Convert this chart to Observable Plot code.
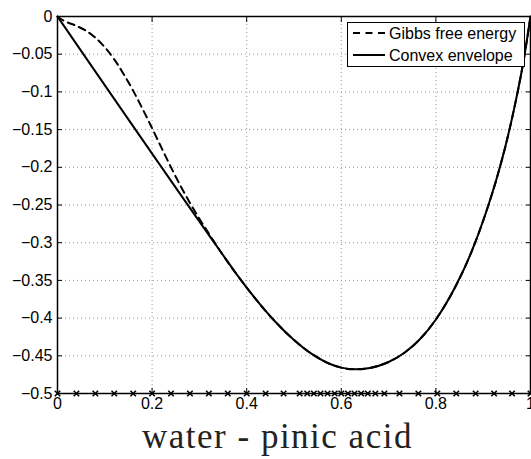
<!DOCTYPE html>
<html><head><meta charset="utf-8">
<script src="https://cdn.jsdelivr.net/npm/d3@7"></script>
<script src="https://cdn.jsdelivr.net/npm/@observablehq/plot@0.6"></script>
<style>
body{margin:0;background:#fff;}
#wrap{position:relative;width:531px;height:459px;overflow:hidden;background:#fff;}
#wrap > svg{display:block;}
.legend{position:absolute;left:347px;top:22px;width:176px;height:43px;border:1px solid #000;background:#fff;}
.legend svg{display:block;}
.title{position:absolute;left:142px;top:419px;font:35px/35px "Liberation Serif","Times New Roman",serif;letter-spacing:1.5px;color:#222;white-space:nowrap;}
</style></head><body>
<div id="wrap"></div>
<script>
// Gibbs free energy of mixing (dashed)
const gibbsX = [0, 0.01, 0.02, 0.04, 0.06, 0.08, 0.10, 0.12, 0.14, 0.16, 0.18, 0.20, 0.22, 0.24, 0.26, 0.28, 0.30, 0.32, 0.345, 0.38, 0.42, 0.46, 0.50, 0.54, 0.575, 0.60, 0.63, 0.66, 0.70, 0.735, 0.765, 0.80, 0.84, 0.875, 0.905, 0.93, 0.95, 0.97, 0.985, 1.0];
const gibbsY = [0, -0.0045, -0.0075, -0.0125, -0.0188, -0.0281, -0.0408, -0.0568, -0.0765, -0.0985, -0.1227, -0.1482, -0.1743, -0.2001, -0.2245, -0.2472, -0.2682, -0.2879, -0.312, -0.343, -0.3755, -0.4045, -0.429, -0.4485, -0.4605, -0.4657, -0.468, -0.4662, -0.4582, -0.4453, -0.4288, -0.4018, -0.3598, -0.3126, -0.2616, -0.2116, -0.1646, -0.1086, -0.060, 0];
// Convex envelope (solid)
const envX = [0, 0.345, 0.38, 0.42, 0.46, 0.50, 0.54, 0.575, 0.60, 0.63, 0.66, 0.70, 0.735, 0.765, 0.80, 0.84, 0.875, 0.905, 0.93, 0.95, 0.97, 0.985, 1.0];
const envY = [0, -0.312, -0.343, -0.3755, -0.4045, -0.429, -0.4485, -0.4605, -0.4657, -0.468, -0.4662, -0.4582, -0.4453, -0.4288, -0.4018, -0.3598, -0.3126, -0.2616, -0.2116, -0.1646, -0.1086, -0.060, 0];
// grid points (x markers on the bottom axis)
const markerX = [0, 0.04, 0.08, 0.12, 0.16, 0.2, 0.24, 0.28, 0.32, 0.36, 0.4, 0.44, 0.478, 0.512, 0.528, 0.542, 0.556, 0.571, 0.586, 0.6, 0.614, 0.628, 0.642, 0.656, 0.672, 0.691, 0.723, 0.763, 0.803, 0.843, 0.884, 0.923, 0.961, 1.0];
const markerY = -0.5;
const xTicks = [0, 0.2, 0.4, 0.6, 0.8, 1];
const yTicks = [-0.5, -0.45, -0.4, -0.35, -0.3, -0.25, -0.2, -0.15, -0.1, -0.05, 0];
const seriesNames = ["Gibbs free energy", "Convex envelope"];
const titleText = "water - pinic acid";

const gibbs = gibbsX.map((x, i) => ({x, y: gibbsY[i]}));
const env = envX.map((x, i) => ({x, y: envY[i]}));
const fmt = d => d === 0 ? "0" : String(d).replace("-", "\u2212");

const chart = Plot.plot({
  width: 531, height: 418,
  marginLeft: 57, marginRight: 1, marginTop: 16, marginBottom: 25,
  x: {domain: [0, 1]},
  y: {domain: [-0.5, 0]},
  style: {fontFamily: '"Liberation Sans", Arial, sans-serif', fontSize: "16px", color: "#000", background: "#fff", overflow: "visible"},
  marks: [
    Plot.gridX(xTicks, {stroke: "#999", strokeOpacity: 1, strokeDasharray: "1,3"}),
    Plot.gridY(yTicks, {stroke: "#999", strokeOpacity: 1, strokeDasharray: "1,3"}),
    Plot.line(env, {x: "x", y: "y", stroke: "#000", strokeWidth: 2, curve: "monotone-x"}),
    Plot.line(gibbs, {x: "x", y: "y", stroke: "#000", strokeWidth: 2, strokeDasharray: "7,5", curve: "monotone-x"}),
    Plot.frame({stroke: "#000", strokeWidth: 1.5}),
    Plot.axisX(xTicks, {anchor: "bottom", tickSize: -5, tickPadding: 9, tickFormat: fmt, label: null}),
    Plot.axisX(xTicks, {anchor: "top", tickSize: -5, fill: "none", label: null}),
    Plot.axisY(yTicks, {anchor: "left", tickSize: -5, tickPadding: 10, tickFormat: fmt, label: null}),
    Plot.axisY(yTicks, {anchor: "right", tickSize: -5, fill: "none", label: null}),
    Plot.dot(markerX, {x: d => d, y: () => markerY, symbol: "times", r: 2.6, stroke: "#000", strokeWidth: 1.6})
  ]
});
const wrap = document.getElementById("wrap");
wrap.appendChild(chart);

// legend
const leg = document.createElement("div");
leg.className = "legend";
leg.innerHTML = `<svg width="176" height="43" font-family="Liberation Sans, Arial, sans-serif" font-size="16">
  <line x1="5" x2="37" y1="10" y2="10" stroke="#000" stroke-width="2" stroke-dasharray="7,5.5"/>
  <text x="41" y="15.5" fill="#000">${seriesNames[0]}</text>
  <line x1="5" x2="37" y1="32" y2="32" stroke="#000" stroke-width="2"/>
  <text x="41" y="37.5" fill="#000">${seriesNames[1]}</text>
</svg>`;
wrap.appendChild(leg);

const t = document.createElement("div");
t.className = "title";
t.textContent = titleText;
wrap.appendChild(t);
</script>
</body></html>
